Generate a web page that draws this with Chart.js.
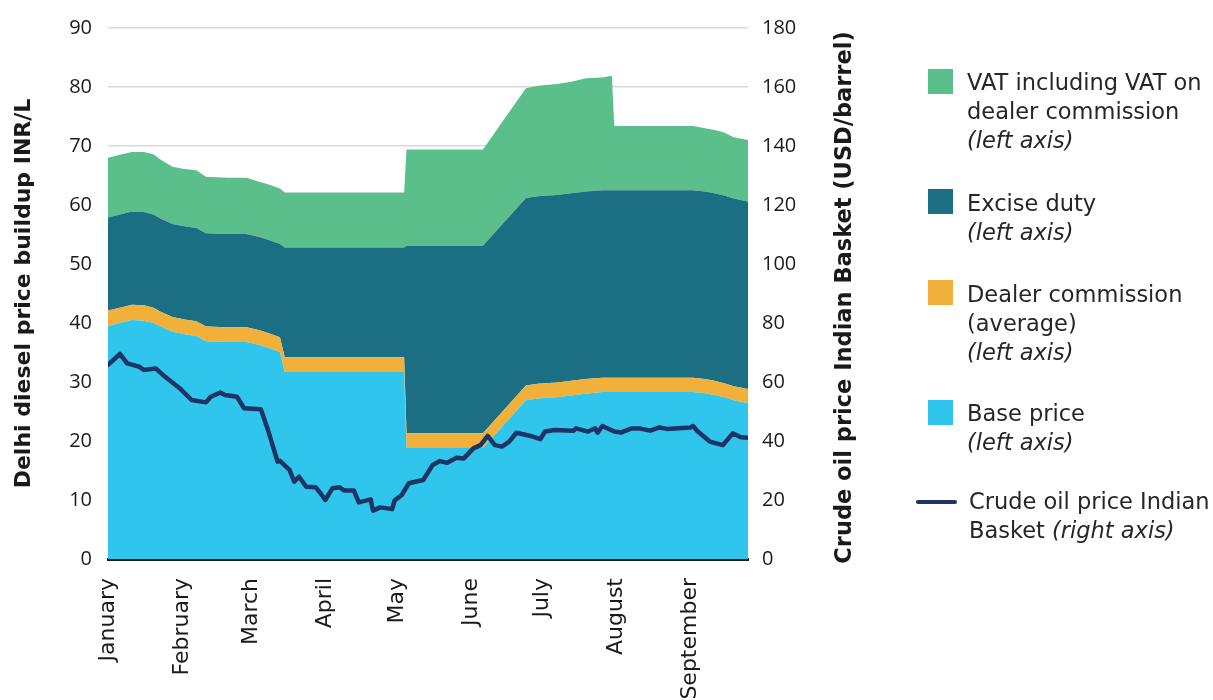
<!DOCTYPE html>
<html>
<head>
<meta charset="utf-8">
<script src="https://cdn.jsdelivr.net/npm/chart.js@4/dist/chart.umd.min.js"></script>
<style>
  html, body { margin: 0; padding: 0; background: #fff; }
  #wrap { position: relative; width: 1213px; height: 700px; overflow: hidden; }
  #legend { font-family: "DejaVu Sans", sans-serif; font-size: 22.5px; color: #262626; }
  .item { position: absolute; line-height: 29px; white-space: nowrap; }
  .item i { font-style: italic; }
  .sw { position: absolute; width: 25px; height: 25px; }
  .ln { position: absolute; width: 41px; height: 4px; border-radius: 2px; background: #1e3464; }
</style>
</head>
<body>
<div id="wrap">
  <canvas id="c" width="1213" height="700"></canvas>
  <div id="legend">
    <div class="sw" style="left:928px;top:69px;background:#5bbf8b"></div>
    <div class="item" style="left:967px;top:68px">VAT including VAT on<br>dealer commission<br><i>(left axis)</i></div>
    <div class="sw" style="left:928px;top:189px;background:#1c6f83"></div>
    <div class="item" style="left:967px;top:189px">Excise duty<br><i>(left axis)</i></div>
    <div class="sw" style="left:928px;top:280px;background:#f0b03a"></div>
    <div class="item" style="left:967px;top:280px">Dealer commission<br>(average)<br><i>(left axis)</i></div>
    <div class="sw" style="left:928px;top:400px;background:#2fc5ec"></div>
    <div class="item" style="left:967px;top:399px">Base price<br><i>(left axis)</i></div>
    <div class="ln" style="left:916px;top:500px"></div>
    <div class="item" style="left:969px;top:487px">Crude oil price Indian<br>Basket <i>(right axis)</i></div>
  </div>
</div>
<script>
// month ticks (day of year 2020, Jan 1 = 0)
const monthStart = [0, 31, 60, 91, 121, 152, 182, 213, 244];
const monthNames = ["January", "February", "March", "April", "May", "June", "July", "August", "September"];

// price buildup, INR/L (left axis)
const days = [0, 5, 10, 15, 19, 22, 27, 32, 37, 41, 50, 58, 63, 67, 72, 74, 124, 125, 157, 175,
  180, 188, 194, 200, 207, 211, 212, 245, 250, 254, 258, 262, 268];
const basePrice = [39.5, 40.0, 40.5, 40.4, 40.0, 39.4, 38.5, 38.1, 37.8, 36.9, 36.8, 36.8, 36.3, 35.8, 35.1, 31.7, 31.7, 18.8, 18.8, 26.9,
  27.2, 27.4, 27.7, 28.0, 28.3, 28.3, 28.3, 28.3, 28.1, 27.8, 27.4, 26.9, 26.4];
const dealerCommission = [2.6, 2.6, 2.6, 2.6, 2.6, 2.5, 2.5, 2.5, 2.5, 2.5, 2.5, 2.5, 2.5, 2.5, 2.5, 2.5, 2.5, 2.5, 2.5, 2.5,
  2.5, 2.5, 2.5, 2.5, 2.4, 2.4, 2.4, 2.4, 2.4, 2.4, 2.4, 2.4, 2.4];
const exciseDuty = [15.8, 15.8, 15.8, 15.8, 15.8, 15.8, 15.8, 15.8, 15.8, 15.8, 15.8, 15.8, 15.8, 15.8, 15.8, 18.6, 18.6, 31.8, 31.8, 31.8,
  31.8, 31.8, 31.8, 31.8, 31.8, 31.8, 31.8, 31.8, 31.8, 31.8, 31.8, 31.8, 31.8];
const vat = [10.1, 10.1, 10.1, 10.2, 10.2, 10.0, 9.7, 9.7, 9.8, 9.6, 9.5, 9.5, 9.4, 9.4, 9.4, 9.3, 9.3, 16.3, 16.3, 18.6,
  18.7, 18.8, 18.9, 19.2, 19.1, 19.4, 10.9, 10.9, 10.7, 10.7, 10.7, 10.4, 10.4];

// crude oil price Indian basket, USD/barrel (right axis)
const crudeDays = [0, 5, 8, 13, 15, 20, 23, 30, 35, 41, 43, 47, 49, 54, 57, 64, 67, 71, 72, 76,
  78, 80, 83, 87, 89, 91, 94, 97, 99, 103, 105, 110, 111, 114, 119, 120, 123, 126, 132, 136,
  139, 142, 146, 149, 153, 156, 159, 162, 165, 168, 171, 177, 181, 183, 187, 195, 196, 201, 204, 205,
  207, 212, 215, 219, 223, 227, 231, 234, 244, 245, 247, 252, 257.5, 261.6, 265, 268];
const crudePrice = [65.8, 69.5, 66.3, 65.2, 64.1, 64.6, 62.4, 57.9, 53.9, 53.1, 55.0, 56.4, 55.6, 55.0, 51.1, 50.8, 43.7, 33.0, 33.3, 30.2,
  26.2, 27.9, 24.5, 24.3, 22.3, 20.0, 24.0, 24.3, 23.2, 23.2, 19.2, 20.2, 16.4, 17.5, 16.9, 19.8, 21.7, 25.7, 26.8, 31.9,
  33.2, 32.6, 34.3, 34.1, 37.5, 38.6, 41.7, 38.6, 38.1, 39.8, 42.8, 41.7, 40.6, 43.2, 43.7, 43.5, 44.3, 43.2, 44.3, 42.8,
  45.1, 43.2, 42.9, 44.2, 44.2, 43.5, 44.6, 44.1, 44.6, 45.1, 43.2, 39.8, 38.6, 42.6, 41.3, 41.1];

const leftTitle = "Delhi diesel price buildup INR/L";
const rightTitle = "Crude oil price Indian Basket (USD/barrel)";

const NUM_FONT = '"Open Sans", sans-serif';
const TXT_FONT = '"DejaVu Sans", sans-serif';
const INK = "#1a1a1a";

const pts = (xs, ys) => xs.map((x, i) => ({ x, y: ys[i] }));

function area(label, values, color, fill) {
  return {
    label, data: pts(days, values), yAxisID: "y",
    backgroundColor: color, borderColor: "transparent", borderWidth: 0,
    pointRadius: 0, fill, tension: 0
  };
}

// right axis title reads bottom-to-top, which the built-in title does not do
const rightTitlePlugin = {
  id: "rightTitle",
  afterDraw(chart) {
    const { ctx, chartArea } = chart;
    ctx.save();
    ctx.translate(845, (chartArea.top + chartArea.bottom) / 2 + 4);
    ctx.rotate(-Math.PI / 2);
    ctx.font = "bold 22.5px " + TXT_FONT;
    ctx.fillStyle = INK;
    ctx.textAlign = "center";
    ctx.textBaseline = "middle";
    ctx.fillText(rightTitle, 0, 0);
    ctx.restore();
  }
};

new Chart(document.getElementById("c"), {
  type: "line",
  data: {
    datasets: [
      {
        label: "Crude oil price Indian Basket", data: pts(crudeDays, crudePrice), yAxisID: "y1",
        borderColor: "#1e3464", borderWidth: 4.5, pointRadius: 0, fill: false, tension: 0,
        borderJoinStyle: "round", borderCapStyle: "round"
      },
      area("Base price", basePrice, "#2fc5ec", "origin"),
      area("Dealer commission (average)", dealerCommission, "#f0b03a", "-1"),
      area("Excise duty", exciseDuty, "#1c6f83", "-1"),
      area("VAT including VAT on dealer commission", vat, "#5bbf8b", "-1")
    ]
  },
  options: {
    responsive: false,
    animation: false,
    layout: { padding: { left: 0, right: 343, top: 28, bottom: 0 } },
    plugins: { legend: { display: false }, tooltip: { enabled: false } },
    scales: {
      x: {
        type: "linear", min: 0, max: 268, z: 1,
        afterBuildTicks: (axis) => { axis.ticks = monthStart.map(v => ({ value: v })); },
        afterFit: (axis) => { axis.height = 141; },
        grid: { display: false, drawTicks: false },
        border: { display: true, color: INK, width: 3 },
        ticks: {
          autoSkip: false, minRotation: 90, maxRotation: 90, padding: 19,
          color: INK, font: { family: TXT_FONT, size: 22 },
          callback: (v) => monthNames[monthStart.indexOf(v)]
        }
      },
      y: {
        position: "left", stacked: true, min: 0, max: 90,
        afterFit: (axis) => { axis.width = 108; },
        grid: { color: "#d9d9d9", lineWidth: 1.5, drawTicks: false },
        border: { display: false },
        ticks: { stepSize: 10, padding: 16, color: INK, font: { family: NUM_FONT, size: 20 } },
        title: { display: true, text: leftTitle, color: INK, padding: { top: 11, bottom: 0 },
          font: { family: TXT_FONT, size: 22, weight: "bold" } }
      },
      y1: {
        position: "right", min: 0, max: 180,
        afterFit: (axis) => { axis.width = 122; },
        grid: { display: false, drawTicks: false },
        border: { display: false },
        ticks: { stepSize: 20, padding: 14, color: INK, font: { family: NUM_FONT, size: 20 } }
      }
    }
  },
  plugins: [rightTitlePlugin]
});
</script>
</body>
</html>
